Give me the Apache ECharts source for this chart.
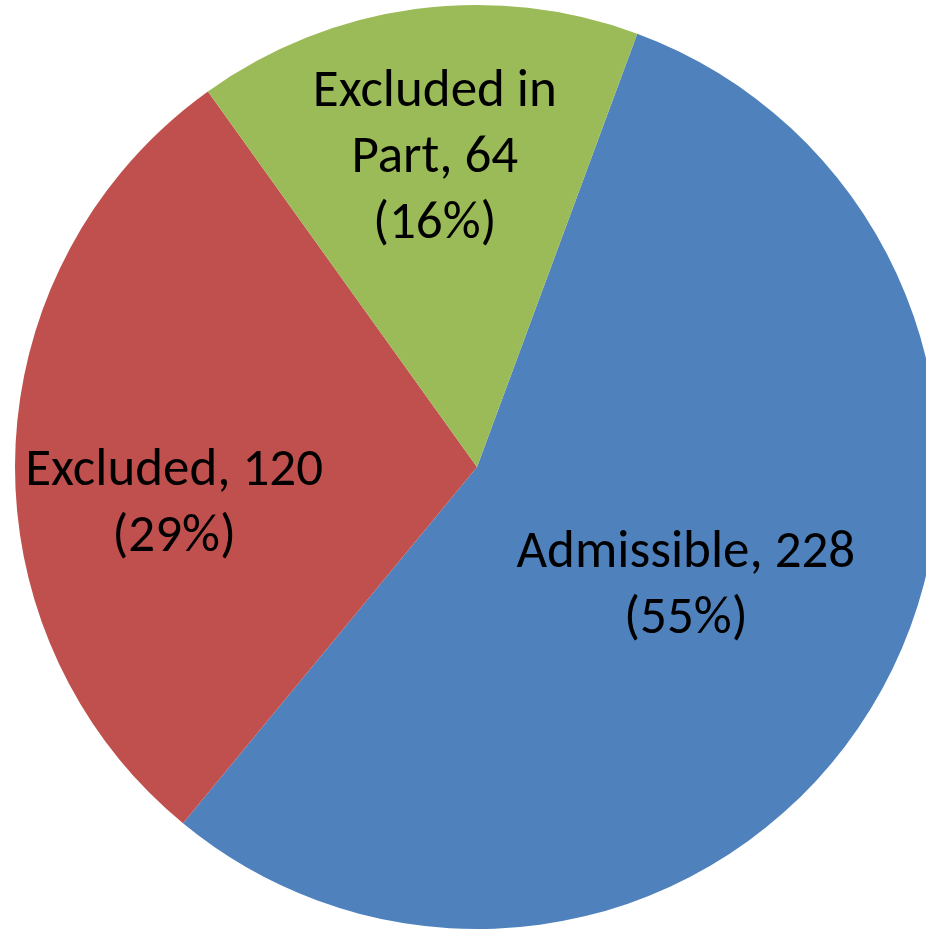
<!DOCTYPE html>
<html>
<head>
<meta charset="utf-8">
<script src="https://cdn.jsdelivr.net/npm/echarts@6/dist/echarts.min.js"></script>
<style>
  html, body { margin: 0; padding: 0; background: #ffffff; }
  #chart { width: 926px; height: 930px; }
</style>
</head>
<body>
<div id="chart"></div>
<script>
// Case outcomes
const categories = ['Admissible', 'Excluded', 'Excluded in Part'];
const counts = [228, 120, 64];
const percentLabels = ['55%', '29%', '16%'];
const labelNames = ['Admissible', 'Excluded', 'Excluded in\nPart'];
const colors = ['#4F81BD', '#C0504D', '#9BBB59'];

// Nudges for the in-slice labels (pixels)
const labelShift = [[6, 3], [-69, 46], [-11, -76]];

const chart = echarts.init(document.getElementById('chart'), null, { renderer: 'canvas' });

chart.setOption({
  animation: false,
  series: [{
    type: 'pie',
    center: [477, 467],
    radius: [0, 462],
    startAngle: 69.7,
    clockwise: true,
    avoidLabelOverlap: false,
    emphasis: { disabled: true },
    itemStyle: { borderWidth: 0 },
    label: {
      show: true,
      position: 'inside',
      color: '#000000',
      fontFamily: 'Carlito, Calibri, Lato, sans-serif',
      fontSize: 53,
      lineHeight: 66,
      align: 'center',
      formatter: function (p) {
        return labelNames[p.dataIndex] + ', ' + p.value + '\n(' + percentLabels[p.dataIndex] + ')';
      }
    },
    labelLine: { show: false },
    labelLayout: function (p) {
      const s = labelShift[p.dataIndex];
      return { dx: s[0], dy: s[1] };
    },
    data: categories.map(function (c, i) {
      return { name: c, value: counts[i], itemStyle: { color: colors[i] } };
    })
  }]
});
</script>
</body>
</html>
